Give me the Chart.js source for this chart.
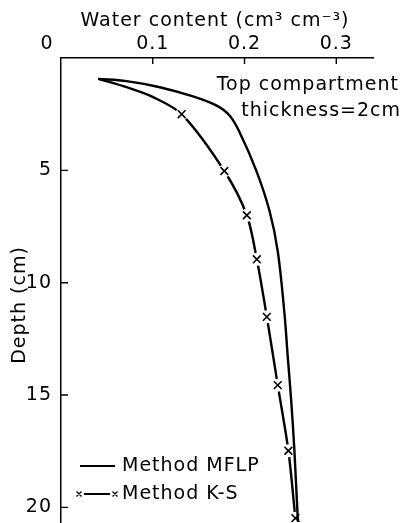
<!DOCTYPE html>
<html>
<head>
<meta charset="utf-8">
<script src="https://cdn.jsdelivr.net/npm/chart.js@4.4.1/dist/chart.umd.min.js"></script>
<style>
  html, body { margin: 0; padding: 0; background: #fff; }
  #wrap { width: 417px; height: 523px; position: relative; }
</style>
</head>
<body>
<div id="wrap"><canvas id="chart"></canvas></div>
<script>
// water content (cm3 cm-3) against depth (cm)
const mflpWater = [0.0405, 0.0714, 0.1076, 0.1438, 0.1692, 0.1837, 0.1946, 0.2127, 0.2272, 0.2362, 0.2435, 0.2471, 0.2508, 0.2543, 0.2579, 0.2585];
const mflpDepth = [0.93, 1.03, 1.30, 1.71, 2.11, 2.56, 3.30, 5.0, 6.8, 8.6, 11.36, 13.3, 15.22, 17.44, 20.41, 20.65];

// K-S path: the unmarked tip first, then the marked compartment values
const ksWater = [0.0405, 0.0714, 0.1004, 0.1315, 0.178, 0.2025, 0.2134, 0.2243, 0.2362, 0.2478, 0.2554];
const ksDepth = [0.93, 1.30, 1.74, 2.5, 5.03, 7.0, 8.96, 11.52, 14.56, 17.48, 20.48];
const ksFirstMarked = 3;

const waterTicks = [0.1, 0.2, 0.3];
const depthTicks = [5, 10, 15, 20];
const seriesNames = ['Method MFLP', 'Method K-S'];
const xTitle = 'Water content (cm\u00B3 cm\u207B\u00B3)';
const yTitle = 'Depth (cm)';
const note = ['Top compartment', 'thickness=2cm'];

const FONT = '"DejaVu Sans", sans-serif';
const SIZE = 19;

function pts(xs, ys) {
    return xs.map((v, i) => ({x: v, y: ys[i]}));
}
const ksMarks = pts(ksWater, ksDepth).slice(ksFirstMarked);

// axis ticks (inward), titles, note and legend
const decor = {
    id: 'decor',
    beforeDraw(chart) {
        chart.ctx.letterSpacing = '1px';
    },
    afterDraw(chart) {
        const {ctx, chartArea: a, scales: {x, y}} = chart;
        ctx.save();
        ctx.strokeStyle = '#000';
        ctx.lineWidth = 1.4;
        ctx.beginPath();
        waterTicks.forEach(v => {
            const px = x.getPixelForValue(v);
            ctx.moveTo(px, a.top);
            ctx.lineTo(px, a.top + 6);
        });
        depthTicks.forEach(v => {
            const py = y.getPixelForValue(v);
            ctx.moveTo(a.left, py);
            ctx.lineTo(a.left + 7, py);
        });
        ctx.stroke();

        ctx.fillStyle = '#000';
        ctx.font = SIZE + 'px ' + FONT;
        ctx.textBaseline = 'middle';
        ctx.textAlign = 'center';
        ctx.fillText(xTitle, 215, 21);
        ctx.fillText('0', a.left - 14, 44);

        ctx.save();
        ctx.translate(20, 305);
        ctx.rotate(-Math.PI / 2);
        ctx.fillText(yTitle, 0, 0);
        ctx.restore();

        ctx.textAlign = 'right';
        ctx.fillText(note[0], 399, 85);
        ctx.fillText(note[1], 401, 111);

        // legend
        ctx.textAlign = 'left';
        ctx.lineWidth = 2;
        ctx.beginPath();
        ctx.moveTo(80, 466);
        ctx.lineTo(115, 466);
        ctx.moveTo(84, 494);
        ctx.lineTo(110, 494);
        ctx.stroke();
        ctx.lineWidth = 1.3;
        ctx.beginPath();
        [79, 115].forEach(cx => {
            ctx.moveTo(cx - 2.5, 491.5);
            ctx.lineTo(cx + 2.5, 496.5);
            ctx.moveTo(cx + 2.5, 491.5);
            ctx.lineTo(cx - 2.5, 496.5);
        });
        ctx.stroke();
        ctx.fillText(seriesNames[0], 122, 466);
        ctx.fillText(seriesNames[1], 122, 494);
        ctx.restore();
    }
};

new Chart(document.getElementById('chart'), {
    type: 'scatter',
    data: {
        datasets: [
            {
                label: seriesNames[0],
                data: pts(mflpWater, mflpDepth),
                showLine: true,
                tension: 0.35,
                borderColor: '#000',
                borderWidth: 2.4,
                pointRadius: 0,
                order: 0,
            },
            {
                label: seriesNames[1],
                data: ksMarks,
                pointStyle: 'crossRot',
                pointRadius: 5.5,
                pointBorderWidth: 1.6,
                pointBorderColor: '#000',
                showLine: false,
                order: 1,
            },
            {
                // white gap round each cross
                label: 'gap',
                data: ksMarks,
                pointStyle: 'circle',
                pointRadius: 6.5,
                pointBorderWidth: 0,
                pointBackgroundColor: '#fff',
                showLine: false,
                order: 2,
            },
            {
                label: seriesNames[1] + ' line',
                data: pts(ksWater, ksDepth),
                showLine: true,
                tension: 0.3,
                borderColor: '#000',
                borderWidth: 2.4,
                pointRadius: 0,
                order: 3,
            },
        ],
    },
    options: {
        responsive: true,
        maintainAspectRatio: false,
        animation: false,
        layout: {autoPadding: false, padding: {left: 0, top: 0, right: 44, bottom: 1}},
        scales: {
            x: {
                type: 'linear',
                position: 'top',
                min: 0,
                max: 0.34,
                afterFit: s => {
                    s.height = 58;
                    s.paddingLeft = 0;
                    s.paddingRight = 0;
                },
                afterBuildTicks: s => { s.ticks = waterTicks.map(v => ({value: v})); },
                grid: {display: false, drawTicks: false},
                border: {display: true, color: '#000', width: 1.5},
                ticks: {
                    color: '#000',
                    padding: 3,
                    font: {family: FONT, size: SIZE},
                    callback: v => String(v),
                },
            },
            y: {
                type: 'linear',
                reverse: true,
                min: 0,
                max: 20.65,
                afterFit: s => {
                    s.width = 61;
                    s.paddingTop = 0;
                    s.paddingBottom = 0;
                },
                afterBuildTicks: s => { s.ticks = depthTicks.map(v => ({value: v})); },
                grid: {display: false, drawTicks: false},
                border: {display: true, color: '#000', width: 1.5},
                ticks: {
                    color: '#000',
                    padding: 9,
                    font: {family: FONT, size: SIZE},
                },
            },
        },
        plugins: {
            legend: {display: false},
            tooltip: {enabled: false},
        },
    },
    plugins: [decor],
});
</script>
</body>
</html>
